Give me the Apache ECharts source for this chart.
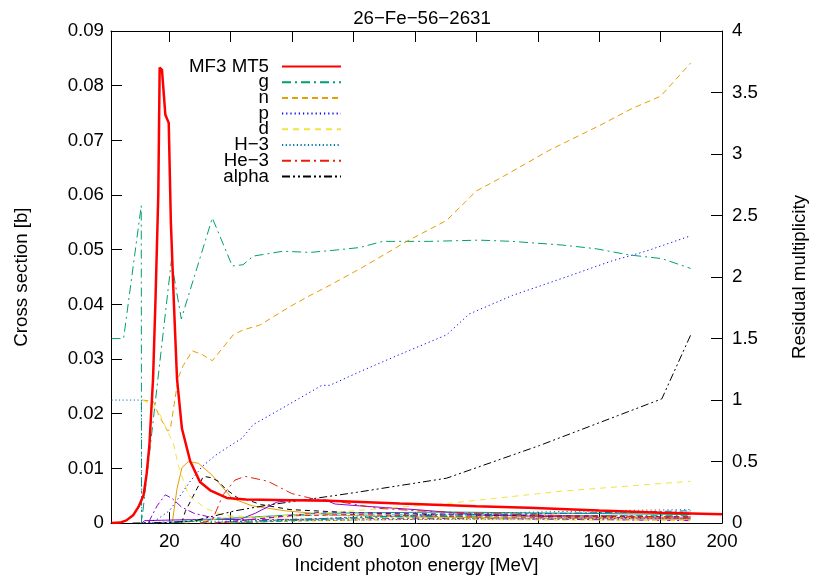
<!DOCTYPE html>
<html><head><meta charset="utf-8">
<script src="https://cdn.jsdelivr.net/npm/echarts@6/dist/echarts.min.js"></script>
<style>html,body{margin:0;padding:0;background:#fff}#c{width:817px;height:580px}</style>
</head><body><div id="c"></div>
<script>
// ---------- data ----------
const titleText = '26\u2212Fe\u221256\u22122631';
const xTicks = [20, 40, 60, 80, 100, 120, 140, 160, 180, 200];

// MF3 MT5 cross section [b] (left axis)
const eMT5 = [1.17, 4, 6, 8.3, 10, 11.6, 12.6, 13.5, 14.7, 15.5, 16.4, 16.85, 17.6, 18.7, 19.8, 20.5, 21.5, 22.5, 24.1, 26.8, 30, 33.3, 38.7, 45, 60, 72, 95, 120, 137, 160, 180, 200];
const xsMT5 = [0, 0.0001, 0.0005, 0.0015, 0.003, 0.0051, 0.009, 0.0142, 0.0264, 0.041, 0.06, 0.0833, 0.0829, 0.0747, 0.0732, 0.055, 0.04, 0.0264, 0.0173, 0.0113, 0.0075, 0.006, 0.0046, 0.0043, 0.0042, 0.0041, 0.0036, 0.0031, 0.0028, 0.0023, 0.0019, 0.0016];

// residual multiplicities (right axis)
const eG = [1.17, 5.1, 10.85, 10.95, 20.65, 23.9, 34, 40.5, 44, 47.3, 57, 65.8, 74.5, 82, 89.5, 104.7, 121, 131.7, 148, 159, 169.7, 180.4, 189.8];
const mG = [1.5, 1.5, 2.58, 0, 2.13, 1.66, 2.48, 2.09, 2.10, 2.17, 2.21, 2.20, 2.22, 2.24, 2.29, 2.29, 2.30, 2.29, 2.26, 2.23, 2.18, 2.15, 2.07];

const eN = [11.2, 14.8, 16.5, 19.4, 20.3, 22.9, 24.5, 27.5, 30.7, 34, 40.8, 44, 49.5, 59.3, 65.8, 71.3, 83, 97.3, 110.3, 120, 127.5, 143.7, 160, 170.7, 180, 189.8];
const mN = [1.0, 0.99, 0.88, 0.75, 0.76, 1.18, 1.28, 1.40, 1.37, 1.32, 1.53, 1.57, 1.61, 1.76, 1.85, 1.92, 2.08, 2.29, 2.46, 2.70, 2.80, 3.03, 3.23, 3.37, 3.47, 3.74];

const eP = [12, 16, 20, 22.9, 26.8, 30.7, 35, 39.2, 43.7, 47.3, 59.3, 69.7, 72.3, 82, 94, 110.3, 117.7, 131.7, 148, 164, 175.2, 189.2];
const mP = [0, 0.03, 0.1, 0.2, 0.34, 0.46, 0.55, 0.62, 0.69, 0.80, 0.97, 1.12, 1.12, 1.23, 1.36, 1.53, 1.70, 1.85, 1.99, 2.13, 2.21, 2.33];

const eD = [11.2, 14, 17, 19.5, 21.3, 22.9, 26.2, 31.7, 38, 50, 70, 90, 110.6, 148, 189.8];
const mD = [1.0, 0.97, 0.88, 0.74, 0.65, 0.47, 0.23, 0.12, 0.06, 0.05, 0.08, 0.12, 0.16, 0.26, 0.34];

const eH3 = [1.17, 10.9, 11.0, 20, 50, 100, 150, 189.8];
const mH3 = [1.0, 1.0, 0, 0.01, 0.02, 0.03, 0.035, 0.04];

const eHe3 = [30, 34, 37.5, 41.4, 44.7, 52.1, 59.9, 66.4, 73.9, 88, 101, 120, 150, 189.8];
const mHe3 = [0, 0.024, 0.23, 0.35, 0.38, 0.34, 0.24, 0.20, 0.18, 0.12, 0.10, 0.08, 0.06, 0.05];

const eAlpha = [8, 20, 28.4, 41.4, 52.1, 63.2, 73.9, 81, 110.3, 140.5, 180.4, 190];
const mAlpha = [0, 0.005, 0.02, 0.10, 0.146, 0.186, 0.224, 0.25, 0.365, 0.63, 1.01, 1.54];

// unlabeled residual curves near the bottom
const eR1 = [21, 22.5, 24.1, 26.2, 29.5, 33.9, 40.5, 47, 57.7, 73.9, 100, 140, 189.8];
const mR1 = [0.01, 0.28, 0.45, 0.50, 0.486, 0.39, 0.20, 0.14, 0.10, 0.065, 0.05, 0.04, 0.03];
const eR2 = [13.3, 16, 18.7, 20.9, 24, 28, 33, 40, 60, 100, 150, 189.8];
const mR2 = [0.01, 0.14, 0.23, 0.20, 0.13, 0.08, 0.05, 0.03, 0.03, 0.04, 0.03, 0.02];
const eR3 = [11, 12, 30, 43, 48, 55, 57.7, 65, 71, 74, 82, 100, 122, 150, 189.8];
const mR3 = [0, 0.02, 0.03, 0.03, 0.08, 0.17, 0.18, 0.19, 0.185, 0.155, 0.14, 0.11, 0.065, 0.05, 0.04];
const eR4 = [24, 25.2, 29, 31.1, 33.5, 36, 38.2, 42.5, 45.2, 50, 59.3, 75, 100, 140, 189.8];
const mR4 = [0, 0.095, 0.28, 0.38, 0.37, 0.34, 0.28, 0.20, 0.19, 0.15, 0.11, 0.09, 0.07, 0.06, 0.05];
const eR5 = [15, 30, 60, 100, 150, 189.8];
const mR5 = [0, 0.03, 0.06, 0.07, 0.08, 0.09];
const eR6 = [20, 40, 70, 110, 150, 189.8];
const mR6 = [0, 0.04, 0.08, 0.09, 0.08, 0.07];
const eR7 = [25, 40, 60, 100, 189.8];
const mR7 = [0, 0.05, 0.04, 0.03, 0.02];
const eR8 = [30, 60, 100, 150, 189.8];
const mR8 = [0, 0.03, 0.06, 0.08, 0.1];
const eR9 = [35, 60, 80, 120, 189.8];
const mR9 = [0, 0.06, 0.07, 0.05, 0.04];
const eR10 = [40, 80, 120, 160, 189.8];
const mR10 = [0, 0.05, 0.08, 0.10, 0.11];
const eR11 = [30, 70, 130, 189.8];
const mR11 = [0, 0.02, 0.04, 0.05];
const eR12 = [40, 90, 140, 189.8];
const mR12 = [0, 0.05, 0.06, 0.06];
const eR13 = [35, 70, 120, 189.8];
const mR13 = [0, 0.09, 0.07, 0.05];

// ---------- chart ----------
const FONT = '"Liberation Sans", Arial, Helvetica, sans-serif';
const FS = 18.7;
const zip = (xs, ys) => xs.map((x, i) => [x, ys[i]]);

function mk(name, xs, ys, color, width, dash, yIdx, z) {
  return {
    type: 'line', name: name, data: zip(xs, ys), xAxisIndex: 0, yAxisIndex: yIdx,
    symbol: 'none', showSymbol: false, silent: true, animation: false, z: z || 2,
    lineStyle: { color: color, width: width, type: dash },
    itemStyle: { color: color }
  };
}

const DOT = [1.2, 3];
const series = [
  mk('res1', eR1, mR1, '#e69f00', 1, 'solid', 1),
  mk('res2', eR2, mR2, '#9400d3', 1, [7, 3, 2, 3], 1),
  mk('res3', eR3, mR3, '#9400d3', 1, 'solid', 1),
  mk('res4', eR4, mR4, '#000000', 1, [5, 4], 1),
  mk('res5', eR5, mR5, '#56b4e9', 1, [4, 3], 1),
  mk('res6', eR6, mR6, '#009e73', 1, 'solid', 1),
  mk('res7', eR7, mR7, '#f0e442', 1, [5, 4], 1),
  mk('res8', eR8, mR8, '#0072b2', 1, [7, 3, 2, 3], 1),
  mk('res9', eR9, mR9, '#e51e10', 1, [5, 4], 1),
  mk('res10', eR10, mR10, '#555555', 1, DOT, 1),
  mk('res11', eR11, mR11, '#e69f00', 1, [4, 3], 1),
  mk('res12', eR12, mR12, '#009e73', 1, [7, 3, 2, 3], 1),
  mk('res13', eR13, mR13, '#9400d3', 1, [5, 4], 1),
  mk('g', eG, mG, '#009e73', 1, [9, 4, 2, 4], 1, 3),
  mk('n', eN, mN, '#e69f00', 1, [6, 4], 1, 3),
  mk('p', eP, mP, '#0000ff', 1, DOT, 1, 3),
  mk('d', eD, mD, '#f0e442', 1, [6, 5], 1, 3),
  mk('H\u22123', eH3, mH3, '#0072b2', 1, [1.2, 2.5], 1, 3),
  mk('He\u22123', eHe3, mHe3, '#e51e10', 1, [9, 4, 2, 4], 1, 3),
  mk('alpha', eAlpha, mAlpha, '#000000', 1, [8, 3, 2, 3, 2, 3], 1, 3),
  mk('MF3 MT5', eMT5, xsMT5, '#ff0000', 2.5, 'solid', 0, 5)
];

const axisLine = { show: true, onZero: false, lineStyle: { color: '#000', width: 1 } };
const tickStyle = { color: '#000', width: 1 };
const labelStyle = { color: '#000', fontSize: FS, fontFamily: FONT };

const option = {
  animation: false,
  backgroundColor: '#fff',
  title: {
    text: titleText, left: 417, top: 4, textAlign: 'center',
    textStyle: { color: '#000', fontSize: FS, fontWeight: 'normal', fontFamily: FONT }
  },
  grid: { left: 111, right: 93.5, top: 31, bottom: 55, containLabel: false },
  legend: {
    data: ['MF3 MT5', 'g', 'n', 'p', 'd', 'H\u22123', 'He\u22123', 'alpha'],
    orient: 'vertical', align: 'right', right: 475, top: 57, padding: 0,
    itemWidth: 59, itemHeight: 14, itemGap: -3.3, selectedMode: false,
    itemStyle: { color: 'transparent', borderColor: 'transparent', borderWidth: 0, opacity: 0 },
    textStyle: { color: '#000', fontSize: FS, fontFamily: FONT, lineHeight: 14, padding: [0, 8, 0, 0] }
  },
  xAxis: [
    {
      type: 'value', min: 1, max: 200, position: 'bottom',
      axisLine: axisLine,
      axisTick: { inside: true, length: 11, customValues: xTicks, lineStyle: tickStyle },
      axisLabel: Object.assign({ customValues: xTicks, margin: 9 }, labelStyle),
      splitLine: { show: false },
      name: 'Incident photon energy [MeV]', nameLocation: 'middle', nameGap: 29,
      nameTextStyle: labelStyle
    },
    {
      type: 'value', min: 1, max: 200, position: 'top',
      axisLine: axisLine,
      axisTick: { inside: true, length: 11, customValues: xTicks, lineStyle: tickStyle },
      axisLabel: { show: false, customValues: xTicks },
      splitLine: { show: false }
    }
  ],
  yAxis: [
    {
      type: 'value', min: 0, max: 0.09, interval: 0.01, position: 'left',
      axisLine: axisLine,
      axisTick: { inside: true, length: 11, lineStyle: tickStyle },
      axisLabel: Object.assign({ margin: 7 }, labelStyle),
      splitLine: { show: false },
      name: 'Cross section [b]', nameLocation: 'middle', nameGap: 80, nameRotate: 90,
      nameTextStyle: labelStyle
    },
    {
      type: 'value', min: 0, max: 4, interval: 0.5, position: 'right',
      axisLine: axisLine,
      axisTick: { inside: true, length: 11, lineStyle: tickStyle },
      axisLabel: Object.assign({ margin: 10 }, labelStyle),
      splitLine: { show: false },
      name: 'Residual multiplicity', nameLocation: 'middle', nameGap: 68, nameRotate: 90,
      nameTextStyle: labelStyle
    }
  ],
  series: series
};

const chart = echarts.init(document.getElementById('c'), null, { renderer: 'canvas' });
chart.setOption(option);
</script></body></html>
